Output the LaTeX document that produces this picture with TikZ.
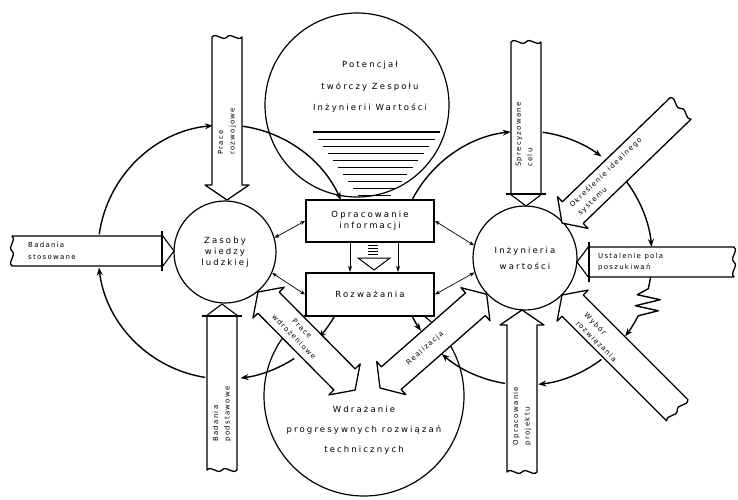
\documentclass[tikz,border=0pt]{standalone}
\usepackage{fontspec}
\newfontfamily\leroy[LetterSpace=25]{DejaVu Sans}
\newfontfamily\leroysmall[LetterSpace=18]{DejaVu Sans}
\usetikzlibrary{arrows.meta,calc}

\tikzset{
  circ/.style={draw, circle, line width=1.2pt, inner sep=0pt},
  txt/.style={font=\leroy\fontsize{8.5}{11}\selectfont, align=center},
  box/.style={draw, line width=2pt, fill=white, minimum width=128pt, minimum height=42pt, txt},
  loopline/.style={line width=1.4pt, line join=round, -{Stealth[length=8pt,width=6pt]}},
  band/.style={line width=1.3pt, fill=white, line join=round},
  bandtxt/.style={font=\leroysmall\fontsize{7}{11.5}\selectfont, align=left, inner sep=0pt, transform shape},
  link/.style={line width=0.7pt, {Stealth[length=5pt,width=4pt]}-{Stealth[length=5pt,width=4pt]}},
}

% band with a hollow head at the tip and a torn tail
\newcommand{\arrowband}[6]{%
  \begin{scope}[shift={#1},rotate=#2]
    \draw[band] (0,0) -- (15,22) -- (15,15) -- (#3,15)
      .. controls (#3+5,10) and (#3-5,5) .. (#3,0)
      .. controls (#3+5,-5) and (#3-5,-10) .. (#3,-15)
      -- (15,-15) -- (15,-22) -- cycle;
    \node[bandtxt,#5] (#4) {#6};
  \end{scope}}

% band with hollow heads at both ends
\newcommand{\doubleband}[6]{%
  \begin{scope}[shift={#1},rotate=#2]
    \draw[band] (0,0) -- (15,22) -- (15,15) -- (#3-15,15) -- (#3-15,22) -- (#3,0)
      -- (#3-15,-22) -- (#3-15,-15) -- (15,-15) -- (15,-22) -- cycle;
    \node[bandtxt,#5] (#4) {#6};
  \end{scope}}

% band closed by a bar, small head, torn tail
\newcommand{\barband}[6]{%
  \begin{scope}[shift={#1},rotate=#2]
    \draw[band] (12,15) -- (#3,15)
      .. controls (#3+5,10) and (#3-5,5) .. (#3,0)
      .. controls (#3+5,-5) and (#3-5,-10) .. (#3,-15)
      -- (12,-15);
    \draw[line width=1.1pt] (12,16) -- (0,0) -- (12,-16);
    \draw[line width=2pt] (12,-20) -- (12,20);
    \node[bandtxt,#5] (#4) {#6};
  \end{scope}}

\begin{document}
\begin{tikzpicture}[x=1pt,y=1pt,>={Stealth[length=6pt,width=4pt]}]
  \useasboundingbox (0,0) rectangle (738,499);

  % circles
  \node[circ, minimum size=184pt] (potencjal) at (357,394) {};
  \node[circ, minimum size=200pt] (wdrazanie) at (364,103) {};
  \node[circ, minimum size=102pt, txt] (zasoby) at (225,247) {Zasoby\\wiedzy\\ludzkiej};
  \node[circ, minimum size=104pt, txt] (inz) at (525,241) {Inżynieria\\[5pt]wartości};
  \node[txt] (potencjaltxt) at (370,412) {Potencjał\\[10.5pt]twórczy Zespołu\\[10.5pt]Inżynierii Wartości};
  \node[txt] (wdrazanietxt) at (364,69) {Wdrażanie\\[9pt]progresywnych rozwiązań\\[9pt]technicznych};

  % funnel
  \foreach \i in {0,...,9} {
    \pgfmathsetmacro\yy{367-7*\i}
    \pgfmathsetmacro\hw{12.5+0.75*(\yy-299)}
    \pgfmathsetmacro\cx{374.5+0.03*(\yy-299)}
    \pgfmathsetmacro\lw{\i==0 ? 1.8 : 0.9}
    \draw[line width=\lw pt] (\cx-\hw,\yy) -- (\cx+\hw,\yy);
  }

  % boxes
  \node[box] (opracowanie) at (370,278) {Opracowanie\\informacji};
  \node[box, minimum height=43pt] (rozwazania) at (370,204.5) {Rozważania};

  % left loop
  \foreach \a/\b in {-30.3/-42.5, -57/-83, -99/-173, -188/-264.5, -278/-335.8}
    \draw[loopline] (zasoby.center) ++(\a:127) arc[start angle=\a, end angle=\b, radius=127];

  % right loop
  \foreach \a/\b in {152.8/96.5, 82/53, 37/5, -53/-84, -99/-131, 207.2/215}
    \draw[loopline] (inz.center) ++(\a:127) arc[start angle=\a, end angle=\b, radius=127];
  \draw[loopline] (inz.center) ++(-8.6:127) arc[start angle=-8.6, end angle=-14, radius=127]
    -- ++(-11,-6) -- ++(23,-5) -- ++(-25,-6) -- ++(23,-5) -- ++(-12,-3) -- ++(-8,-2)
    arc[start angle=-27, end angle=-38, radius=127];

  % bands
  \arrowband{(227,299)}{90}{163}{rozwojowe}{at={(45,0)},anchor=west}{Prace\\rozwojowe}
  \arrowband{(522,189)}{-90}{162}{projektu}{at={(106,0)},rotate=180}{Opracowanie\\projektu}
  \arrowband{(562,276)}{44}{165}{idealnego}{at={(18,0)},anchor=west}{Określenie idealnego\\systemu}
  \arrowband{(562,204)}{-45}{163}{wybor}{at={(30,-3)},anchor=west}{Wybór\\rozwiązania}
  \doubleband{(380,111)}{41.3}{142}{realizacja}{at={(60,0)}}{Realizacja}
  \doubleband{(258,207)}{-45.3}{138}{wdrozeniowe}{at={(57,0)},align=center}{Prace\\wdrożeniowe}
  \barband{(526,293)}{90}{164}{celu}{at={(39,2)},anchor=west}{Sprecyzowane\\celu}
  \barband{(174,248)}{180}{162}{stosowane}{at={(146,0)},anchor=west,rotate=180}{Badania\\stosowane}
  \barband{(222,195)}{-90}{166}{podstawowe}{at={(110,0)},rotate=180}{Badania\\podstawowe}
  \barband{(577,237)}{0}{157}{poszukiwan}{at={(21,0)},anchor=west}{Ustalenie pola\\poszukiwań}

  % links between circles and boxes
  \draw[link] (zasoby.16) -- (opracowanie.west);
  \draw[link] (zasoby.-24) -- (rozwazania.west);
  \draw[link] (opracowanie.east) -- (inz.166);
  \draw[link] (rozwazania.east) -- (inz.196);

  % from one box to the other
  \draw[->, line width=1pt] ($(opracowanie.south)+(-20,0)$) -- ($(rozwazania.north)+(-20,0)$);
  \draw[->, line width=1pt] ($(opracowanie.south)+(28,0)$) -- ($(rozwazania.north)+(28,0)$);
  \foreach \d in {2,5,8,11}
    \draw[line width=0.8pt] ($(opracowanie.south)+(-2,-\d)$) -- ++(10,0);
  \draw[line width=1pt, fill=white] ($(opracowanie.south)+(-12,-15)$) -- ++(32,0) -- ++(-16,-12) -- cycle;
\end{tikzpicture}
\end{document}
